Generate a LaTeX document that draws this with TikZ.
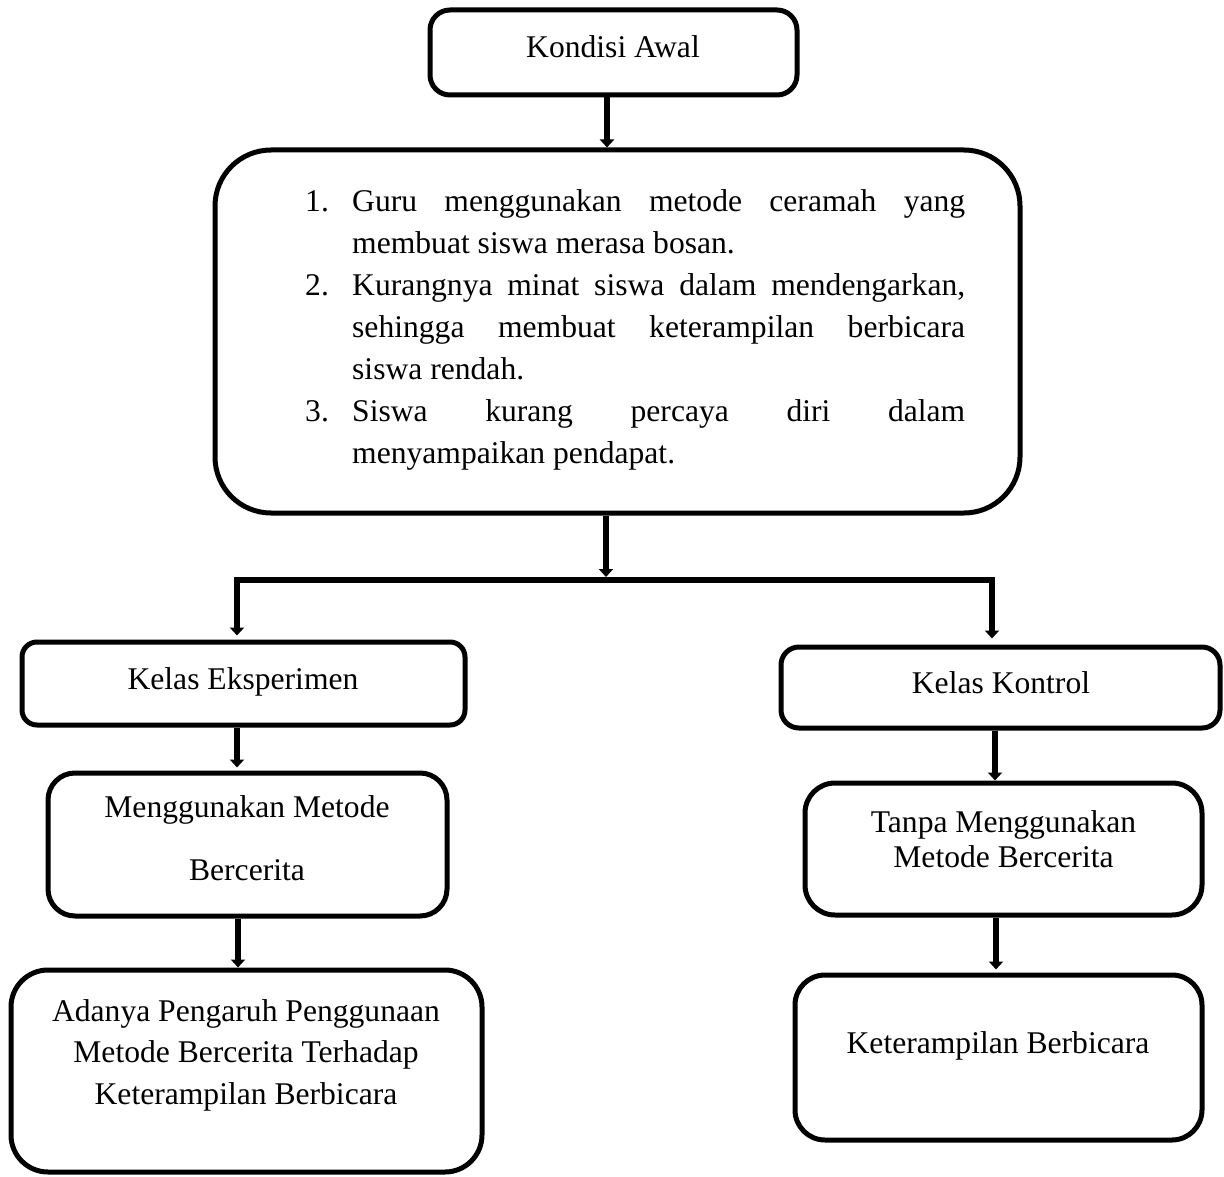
\documentclass[tikz,border=0pt]{standalone}
\usepackage{fontspec}
\setmainfont{Liberation Serif}
\usetikzlibrary{arrows.meta}
\begin{document}
\begin{tikzpicture}[x=1pt,y=-1pt,
  box/.style={draw, line width=5pt, rectangle, rounded corners=#1, inner sep=0pt},
  txt/.style={inner sep=0pt, anchor=base, font=\fontsize{31.6}{38}\selectfont},
  arr/.style={line width=6pt, -{Triangle[width=14pt,length=8pt]}},
]
\useasboundingbox (0,0) rectangle (1224,1177);

% boxes
\node[box=20pt, minimum width=367pt, minimum height=85pt] (top) at (613.5,52.5) {};
\node[box=56pt, minimum width=805pt, minimum height=363pt] (big) at (617.5,331.5) {};
\node[box=15pt, minimum width=443pt, minimum height=83pt] (eks) at (243.5,683.5) {};
\node[box=27pt, minimum width=399pt, minimum height=143pt] (meng) at (247.5,844.5) {};
\node[box=37pt, minimum width=471pt, minimum height=202pt] (ada) at (246.5,1071) {};
\node[box=18pt, minimum width=439pt, minimum height=81pt] (kon) at (1000.5,687.5) {};
\node[box=30pt, minimum width=397pt, minimum height=132pt] (tanpa) at (1003.5,849) {};
\node[box=30pt, minimum width=407pt, minimum height=165pt] (ket) at (998.5,1057.5) {};

% texts
\node[txt] (tTop) at (613,58) {Kondisi Awal};
\node[txt, anchor=base west] (tBig) at (305,212) {\parbox[t]{660pt}{\fontsize{31.6}{41.9}\selectfont
\makebox[47pt][l]{1.}\makebox[613pt][s]{Guru menggunakan metode ceramah yang}\\
\hspace*{47pt}membuat siswa merasa bosan.\\
\makebox[47pt][l]{2.}\makebox[613pt][s]{Kurangnya minat siswa dalam mendengarkan,}\\
\hspace*{47pt}\makebox[613pt][s]{sehingga membuat keterampilan berbicara}\\
\hspace*{47pt}siswa rendah.\\
\makebox[47pt][l]{3.}\makebox[613pt][s]{Siswa kurang percaya diri dalam}\\
\hspace*{47pt}menyampaikan pendapat.}};
\node[txt] (tEks) at (243,689) {Kelas Eksperimen};
\node[txt] (tMeng) at (247,817) {\parbox[t]{390pt}{\centering\fontsize{31.6}{63}\selectfont Menggunakan Metode\\ Bercerita}};
\node[txt] (tAda) at (246,1021) {\parbox[t]{465pt}{\centering\fontsize{31.6}{41.5}\selectfont Adanya Pengaruh Penggunaan\\ Metode Bercerita Terhadap\\ Keterampilan Berbicara}};
\node[txt] (tKon) at (1001,693) {Kelas Kontrol};
\node[txt] (tTanpa) at (1003.5,832) {\parbox[t]{390pt}{\centering\fontsize{31.6}{35}\selectfont Tanpa Menggunakan\\ Metode Bercerita}};
\node[txt] (tKet) at (998,1053) {Keterampilan Berbicara};

% connector x positions
\coordinate (cA) at (607,0);
\coordinate (fork) at (606,580);
\coordinate (fL) at (237,580);
\coordinate (fR) at (992,580);
\coordinate (cL1) at (237,0);
\coordinate (cL2) at (238,0);
\coordinate (cR1) at (995,0);
\coordinate (cR2) at (996,0);

% connectors
\draw[arr] (top.south -| cA) -- (big.north -| cA);
\draw[arr, shorten >=3pt] (big.south -| fork) -- (fork);
\draw[arr, shorten >=4pt] (fork) -- (fL) -- (fL |- eks.north);
\draw[arr, shorten >=6pt] (fork) -- (fR) -- (fR |- kon.north);
\draw[arr, shorten >=3pt] (eks.south -| cL1) -- (meng.north -| cL1);
\draw[arr] (meng.south -| cL2) -- (ada.north -| cL2);
\draw[arr] (kon.south -| cR1) -- (tanpa.north -| cR1);
\draw[arr, shorten >=3pt] (tanpa.south -| cR2) -- (ket.north -| cR2);
\end{tikzpicture}
\end{document}
